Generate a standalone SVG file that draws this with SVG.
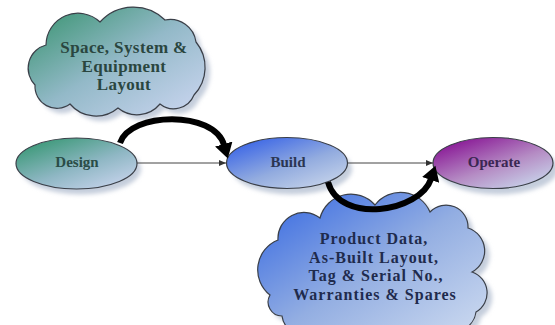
<svg xmlns="http://www.w3.org/2000/svg" width="555" height="325" viewBox="0 0 555 325">
  <defs>
    <linearGradient id="gDesign" x1="0.15" y1="0.1" x2="0.85" y2="0.95">
      <stop offset="0" stop-color="#3f9a7b"/>
      <stop offset="0.55" stop-color="#8fb7c4"/>
      <stop offset="1" stop-color="#c4d2ea"/>
    </linearGradient>
    <linearGradient id="gBuild" x1="0.15" y1="0.1" x2="0.85" y2="0.95">
      <stop offset="0" stop-color="#3f69e6"/>
      <stop offset="0.55" stop-color="#93acdf"/>
      <stop offset="1" stop-color="#c4d2ea"/>
    </linearGradient>
    <linearGradient id="gOperate" x1="0.15" y1="0.1" x2="0.85" y2="0.95">
      <stop offset="0" stop-color="#8a1b97"/>
      <stop offset="0.55" stop-color="#b58cc4"/>
      <stop offset="1" stop-color="#c8d3ea"/>
    </linearGradient>
    <linearGradient id="gCloudTop" x1="0.1" y1="0.1" x2="0.9" y2="0.9">
      <stop offset="0" stop-color="#46997d"/>
      <stop offset="0.5" stop-color="#93b9c8"/>
      <stop offset="1" stop-color="#c2d1ea"/>
    </linearGradient>
    <linearGradient id="gCloudBottom" x1="0.1" y1="0.1" x2="0.9" y2="0.9">
      <stop offset="0" stop-color="#4473e2"/>
      <stop offset="0.5" stop-color="#93aee2"/>
      <stop offset="1" stop-color="#c6d5ee"/>
    </linearGradient>
    <filter id="soft" x="-20%" y="-20%" width="140%" height="140%">
      <feGaussianBlur stdDeviation="2"/>
    </filter>
    <marker id="thinHead" markerUnits="userSpaceOnUse" markerWidth="8" markerHeight="8" refX="7" refY="4" orient="auto">
      <path d="M0,1 L7,4 L0,7 Z" fill="#333"/>
    </marker>
    <marker id="bigHead" markerUnits="userSpaceOnUse" markerWidth="16" markerHeight="18" refX="1" refY="9" orient="auto">
      <path d="M0,0 L15,9 L0,18 Z" fill="#000"/>
    </marker>
  </defs>
  <style>
    .node-shape { stroke: #3a3f48; stroke-width: 1.2; }
    .shadow { fill: #c5cedc; filter: url(#soft); }
    .label { font-weight: bold; text-anchor: middle; }
    .node-label { font-size: 15px; }
    .cloud-label { font-size: 17px; letter-spacing: 0.4px; }
    .thin { fill: none; stroke: #444; stroke-width: 1; marker-end: url(#thinHead); }
    .thick { fill: none; stroke: #000; stroke-width: 6; marker-end: url(#bigHead); }
  </style>

  <rect width="555" height="325" fill="#ffffff"/>

  <g font-family="Liberation Serif, Times New Roman, serif">
  <!-- cloud: design-phase deliverables -->
  <g id="cloud-layout">
    <path class="shadow" transform="translate(5,5)" d="M35,85 A24,24 0 0 1 46,45 A32,32 0 0 1 100,22 A45,45 0 0 1 165,20 A26,26 0 0 1 196,42 A40,40 0 0 1 194,95 A22,22 0 0 1 160,104 A30,30 0 0 1 118,108 A34,34 0 0 1 70,104 A22,22 0 0 1 35,85 Z"/>
    <path class="node-shape" fill="url(#gCloudTop)" d="M35,85 A24,24 0 0 1 46,45 A32,32 0 0 1 100,22 A45,45 0 0 1 165,20 A26,26 0 0 1 196,42 A40,40 0 0 1 194,95 A22,22 0 0 1 160,104 A30,30 0 0 1 118,108 A34,34 0 0 1 70,104 A22,22 0 0 1 35,85 Z"/>
    <text class="label cloud-label" fill="#2a463f" x="124" y="53">Space, System &amp;</text>
    <text class="label cloud-label" fill="#2a463f" x="124" y="71.5">Equipment</text>
    <text class="label cloud-label" fill="#2a463f" x="124" y="90">Layout</text>
  </g>

  <!-- cloud: build-phase deliverables -->
  <g id="cloud-asbuilt">
    <path class="shadow" transform="translate(5,5)" d="M270,295 A32,32 0 0 1 278,240 A26,26 0 0 1 320,218 A32,32 0 0 1 375,205 A32,32 0 0 1 430,212 A22,22 0 0 1 468,228 A24,24 0 0 1 472,272 A22,22 0 0 1 476,312 A22,22 0 0 1 440,326 A40,40 0 0 1 380,330 A36,36 0 0 1 320,328 A22,22 0 0 1 282,316 A14,14 0 0 1 270,295 Z"/>
    <path class="node-shape" fill="url(#gCloudBottom)" d="M270,295 A32,32 0 0 1 278,240 A26,26 0 0 1 320,218 A32,32 0 0 1 375,205 A32,32 0 0 1 430,212 A22,22 0 0 1 468,228 A24,24 0 0 1 472,272 A22,22 0 0 1 476,312 A22,22 0 0 1 440,326 A40,40 0 0 1 380,330 A36,36 0 0 1 320,328 A22,22 0 0 1 282,316 A14,14 0 0 1 270,295 Z"/>
    <g class="label" font-size="16" letter-spacing="1" fill="#1f2b4d">
      <text x="374" y="244">Product Data,</text>
      <text x="374" y="262.5">As-Built Layout,</text>
      <text x="376" y="281">Tag &amp; Serial No.,</text>
      <text x="375" y="299.5">Warranties &amp; Spares</text>
    </g>
  </g>

  <g id="design">
    <ellipse class="shadow" cx="81" cy="169" rx="60" ry="25.5"/>
    <ellipse class="node-shape" fill="url(#gDesign)" cx="76.5" cy="163.5" rx="60.5" ry="25.5"/>
    <text class="label node-label" fill="#2a4c47" x="77" y="167">Design</text>
  </g>

  <g id="build">
    <ellipse class="shadow" cx="292" cy="169" rx="60" ry="25.5"/>
    <ellipse class="node-shape" fill="url(#gBuild)" cx="287" cy="163" rx="60.5" ry="25.5"/>
    <text class="label node-label" fill="#2b3552" x="288" y="167">Build</text>
  </g>

  <g id="operate">
    <ellipse class="shadow" cx="498" cy="169" rx="60" ry="25.5"/>
    <ellipse class="node-shape" fill="url(#gOperate)" cx="493" cy="163" rx="60" ry="25.5"/>
    <text class="label node-label" fill="#3b2752" x="494" y="167">Operate</text>
  </g>
  </g>

  <!-- connectors -->
  <g id="connectors">
    <path class="thin" d="M137,163 L226,163"/>
    <path class="thin" d="M348,163 L433,163"/>
    <path class="thick" d="M120,143 C130,112 214,110 224,145"/>
    <path class="thick" d="M328,182 C340,225 420,212 431,179"/>
  </g>
</svg>
